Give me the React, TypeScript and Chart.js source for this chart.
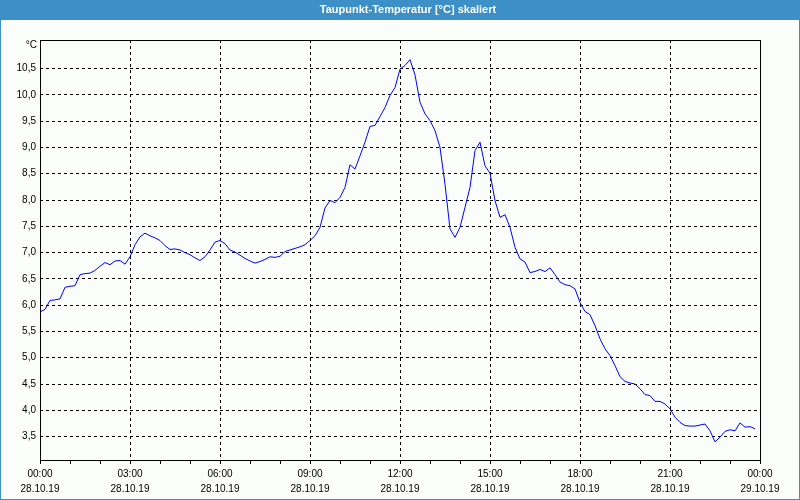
import React, { useEffect, useRef } from "react";
import { Chart, registerables } from "chart.js";

Chart.register(...registerables);

const TITLE = "Taupunkt-Temperatur [°C] skaliert";
const UNIT = "°C";
const SAMPLE_MINUTES = 10;

// dew point [°C], one value every 10 minutes from 28.10.19 00:00
const dewPoint = [
  5.87, 5.92, 6.09, 6.10, 6.12, 6.34, 6.36, 6.37, 6.58, 6.60, 6.61, 6.66,
  6.74, 6.81, 6.77, 6.84, 6.85, 6.78, 6.92, 7.15, 7.30, 7.37, 7.32, 7.28,
  7.23, 7.13, 7.06, 7.07, 7.05, 7.00, 6.96, 6.90, 6.85, 6.92, 7.05, 7.20,
  7.23, 7.17, 7.05, 7.01, 6.95, 6.89, 6.84, 6.80, 6.83, 6.87, 6.92, 6.91,
  6.93, 7.02, 7.05, 7.08, 7.11, 7.15, 7.23, 7.32, 7.48, 7.85, 7.99, 7.95,
  8.05, 8.24, 8.67, 8.59, 8.84, 9.10, 9.40, 9.42, 9.59, 9.76, 9.99, 10.14,
  10.49, 10.56, 10.67, 10.38, 9.86, 9.64, 9.51, 9.32, 9.00, 8.30, 7.45, 7.29,
  7.48, 7.86, 8.24, 8.94, 9.10, 8.65, 8.51, 7.99, 7.67, 7.72, 7.48, 7.10,
  6.88, 6.82, 6.62, 6.64, 6.68, 6.64, 6.71, 6.58, 6.44, 6.39, 6.37, 6.31,
  6.05, 5.88, 5.82, 5.61, 5.36, 5.17, 5.04, 4.85, 4.64, 4.55, 4.52, 4.50,
  4.41, 4.30, 4.28, 4.17, 4.17, 4.12, 4.03, 3.87, 3.77, 3.71, 3.70, 3.70,
  3.72, 3.74, 3.61, 3.40, 3.49, 3.60, 3.63, 3.61, 3.76, 3.68, 3.69, 3.65,
];

const yTickValues = [3.5, 4.0, 4.5, 5.0, 5.5, 6.0, 6.5, 7.0, 7.5, 8.0, 8.5, 9.0, 9.5, 10.0, 10.5];
const Y_MIN = 3.055;
const Y_MAX = 11.044;

const xLabelMinutes = [0, 180, 360, 540, 720, 900, 1080, 1260, 1440];
const xTimeLabels = ["00:00", "03:00", "06:00", "09:00", "12:00", "15:00", "18:00", "21:00", "00:00"];
const xDateLabels = ["28.10.19", "28.10.19", "28.10.19", "28.10.19", "28.10.19", "28.10.19", "28.10.19", "28.10.19", "29.10.19"];
const X_MAX = 1440;
const HOUR = 60;

const FONT = "'Liberation Sans', Arial, sans-serif";
const BAND = "#3c8fc7";
const BG = "#fafdfa";

const framePlugin = {
  id: "frame",
  beforeDraw(chart: any) {
    const { ctx, width, height } = chart;
    ctx.save();
    ctx.fillStyle = BG;
    ctx.fillRect(0, 0, width, height);
    ctx.fillStyle = BAND;
    ctx.fillRect(0, 0, width, 20);
    ctx.fillRect(0, 0, 1, height);
    ctx.fillRect(width - 1, 0, 1, height);
    ctx.fillRect(0, height - 1, width, 1);
    ctx.fillStyle = "#ffffff";
    ctx.font = `bold 11px ${FONT}`;
    ctx.textAlign = "center";
    ctx.textBaseline = "middle";
    ctx.fillText(TITLE, 408, 10);
    ctx.restore();
  },
  afterDraw(chart: any) {
    const { ctx, chartArea } = chart;
    const { left, top, right, bottom } = chartArea;
    ctx.save();
    ctx.strokeStyle = "#000000";
    ctx.lineWidth = 1;
    ctx.setLineDash([]);
    ctx.strokeRect(left + 0.5, top + 0.5, right - left, bottom - top);
    ctx.fillStyle = "#000000";
    ctx.font = `10px ${FONT}`;
    ctx.textAlign = "right";
    ctx.textBaseline = "middle";
    ctx.fillText(UNIT, left - 3, top + 5);
    ctx.restore();
  },
};

export default function App() {
  const ref = useRef<HTMLCanvasElement | null>(null);

  useEffect(() => {
    document.body.style.margin = "0";
    const canvas = ref.current;
    if (!canvas) return;
    const points = dewPoint.map((v, i) => ({ x: i * SAMPLE_MINUTES, y: v }));
    const chart = new Chart(canvas, {
      type: "line",
      data: {
        datasets: [
          {
            data: points,
            borderColor: "#0000ff",
            borderWidth: 1,
            pointRadius: 0,
            tension: 0,
            fill: false,
          },
        ],
      },
      options: {
        animation: false,
        responsive: false,
        devicePixelRatio: 1,
        layout: { padding: { top: 40, right: 40, left: 0, bottom: 0 } },
        plugins: {
          legend: { display: false },
          tooltip: { enabled: false },
          title: { display: false },
        },
        scales: {
          x: {
            type: "linear",
            min: 0,
            max: X_MAX,
            afterBuildTicks: (scale: any) => {
              const t = [];
              for (let m = 0; m <= X_MAX; m += HOUR) t.push({ value: m });
              scale.ticks = t;
            },
            afterFit: (scale: any) => {
              scale.height = 40;
            },
            ticks: {
              autoSkip: false,
              maxRotation: 0,
              minRotation: 0,
              padding: 3,
              color: "#000000",
              font: { family: FONT, size: 10, lineHeight: 1.5 },
              callback: (v: any) => {
                const i = xLabelMinutes.indexOf(Number(v));
                return i >= 0 ? [xTimeLabels[i], xDateLabels[i]] : "";
              },
            },
            grid: {
              color: (c: any) => {
                const v = c.tick ? c.tick.value : -1;
                return v > 0 && v < X_MAX && v % 180 === 0 ? "#000000" : "rgba(0,0,0,0)";
              },
              tickColor: "#000000",
              tickLength: 4,
              lineWidth: 1,
            },
            border: { display: false, dash: [3, 3] },
          },
          y: {
            min: Y_MIN,
            max: Y_MAX,
            afterBuildTicks: (scale: any) => {
              scale.ticks = yTickValues.map((v) => ({ value: v }));
            },
            afterFit: (scale: any) => {
              scale.width = 40;
            },
            ticks: {
              padding: 4,
              color: "#000000",
              font: { family: FONT, size: 10 },
              callback: (v: any) => Number(v).toFixed(1).replace(".", ","),
            },
            grid: {
              color: "#000000",
              drawTicks: false,
              lineWidth: 1,
            },
            border: { display: false, dash: [3, 3] },
          },
        },
      },
      plugins: [framePlugin],
    } as any);
    return () => chart.destroy();
  }, []);

  return <canvas ref={ref} width={800} height={500} style={{ display: "block" }} />;
}
